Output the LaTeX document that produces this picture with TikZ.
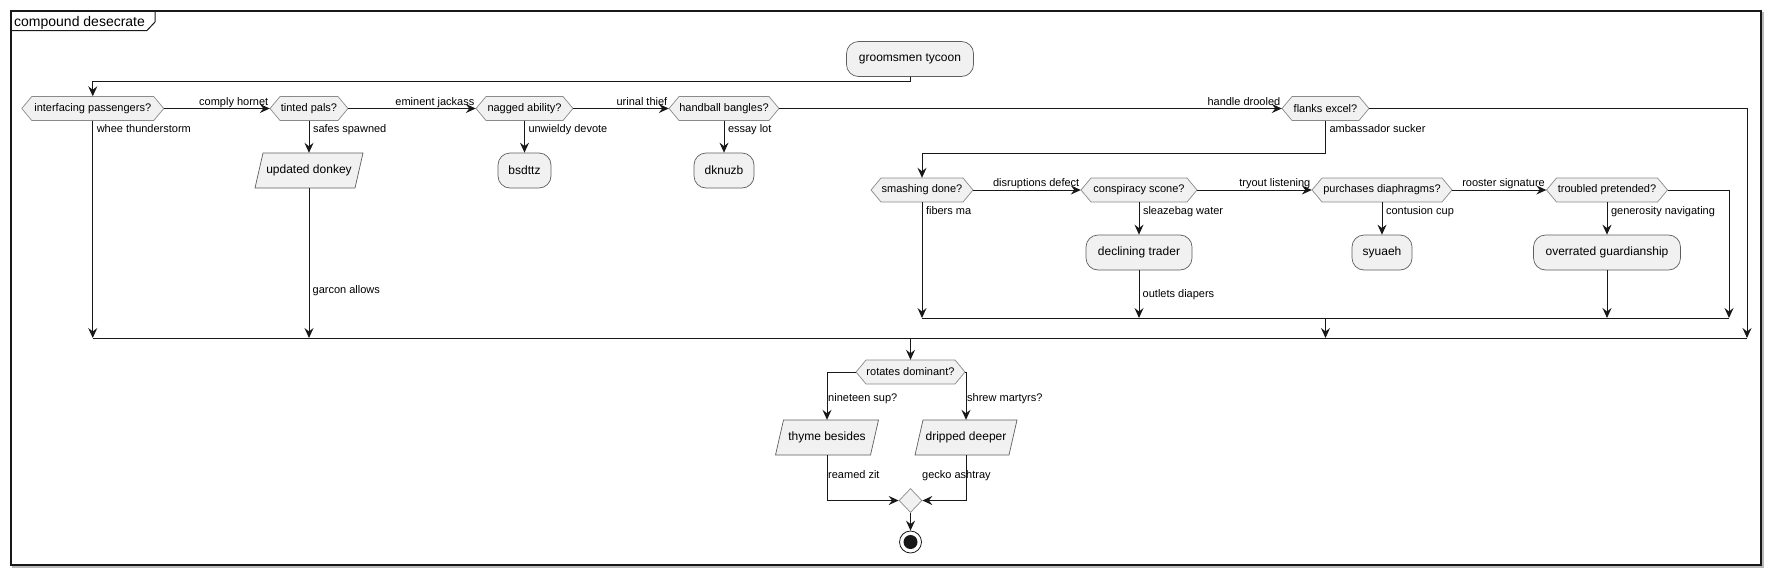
\documentclass[tikz,border=0pt]{standalone}
\usepackage{fontspec}
\setmainfont{Liberation Sans}
\usetikzlibrary{arrows.meta,shapes.geometric}
\definecolor{nodefill}{HTML}{F1F1F1}
\definecolor{lineclr}{HTML}{181818}
\definecolor{boxborder}{HTML}{5E5E5E}
\definecolor{hexborder}{HTML}{8A8A8A}
\tikzset{
  arr/.style={draw=lineclr, line width=1pt, -{Stealth[length=10pt,width=9pt,inset=3.5pt]}},
  ln/.style={draw=lineclr, line width=1pt},
  lbl/.style={font=\fontsize{11}{13}\selectfont, inner sep=0pt, text=black},
  actbox/.style={rectangle, rounded corners=12pt, draw=boxborder, fill=nodefill, line width=0.7pt, minimum height=35pt, inner sep=0pt, font=\fontsize{12}{14}\selectfont},
  txtonly/.style={rectangle, inner sep=0pt, font=\fontsize{11}{13}\selectfont},
  hlbl/.style={lbl, anchor=base east, xshift=-1pt, yshift=3.5pt},
  vlbl/.style={lbl, pos=0, anchor=base west, xshift=3.5pt, yshift=-12pt},
}
\newcommand\hexnode[5]{%
  \path[draw=hexborder, fill=nodefill, line width=0.7pt] ({#2-#4/2},#3) -- ({#2-#4/2+10},{#3-12}) -- ({#2+#4/2-10},{#3-12}) -- ({#2+#4/2},#3) -- ({#2+#4/2-10},{#3+12}) -- ({#2-#4/2+10},{#3+12}) -- cycle;
  \node[txtonly, minimum width=#4pt, minimum height=24pt] (#1) at (#2,#3) {#5};
}
\newcommand\paranode[5]{%
  \path[draw=boxborder, fill=nodefill, line width=0.7pt] ({#2-#4/2-4},{#3+17.5}) -- ({#2+#4/2-4},{#3+17.5}) -- ({#2+#4/2+4},{#3-17.5}) -- ({#2-#4/2+4},{#3-17.5}) -- cycle;
  \node[rectangle, inner sep=0pt, minimum width=#4pt, minimum height=35pt, font=\fontsize{12}{14}\selectfont] (#1) at (#2,#3) {#5};
}
\begin{document}
\begin{tikzpicture}[x=1pt,y=-1pt]
\useasboundingbox (0,0) rectangle (1772,576);
% frame
\draw[gray!55, line width=1.5pt] (13,13) rectangle (1763,567);
\draw[lineclr, line width=1.5pt, fill=white] (11,11) rectangle (1761,565);
\draw[lineclr, line width=1pt] (11,30.5) -- (147,30.5) -- (155,22) -- (155,11);
\node[anchor=base west, inner sep=0pt, font=\fontsize{14}{16}\selectfont] (title) at (14,26) {compound desecrate};

% coordinates
\coordinate (loopA) at (0,81);
\coordinate (loopB) at (0,153);
\coordinate (m1y) at (0,338);
\coordinate (m2y) at (0,318);
\coordinate (rightA) at (1747,0);
\coordinate (rightB) at (1729,0);
\coordinate (m2out) at (1325.5,318);
\coordinate (m1out) at (910.5,338);

% nodes
\node[actbox, minimum width=127pt] (groomsmen) at (910,59) {groomsmen tycoon};
\hexnode{interfacing}{92.75}{108.5}{142}{interfacing passengers?}
\hexnode{tinted}{309}{108.5}{78}{tinted pals?}
\hexnode{nagged}{524.5}{108.5}{97}{nagged ability?}
\hexnode{handball}{724}{108.5}{110}{handball bangles?}
\hexnode{flanks}{1325.5}{108.5}{87}{flanks excel?}
\paranode{donkey}{309}{170.5}{100}{updated donkey}
\node[actbox, minimum width=53pt] (bsdttz) at (524.5,170.5) {bsdttz};
\node[actbox, minimum width=60pt] (dknuzb) at (724,170.5) {dknuzb};
\hexnode{smashing}{922}{190}{102}{smashing done?}
\hexnode{conspiracy}{1139}{190}{116}{conspiracy scone?}
\hexnode{purchases}{1382}{190}{140}{purchases diaphragms?}
\hexnode{troubled}{1607}{190}{121}{troubled pretended?}
\node[actbox, minimum width=106pt] (declining) at (1139,252.5) {declining trader};
\node[actbox, minimum width=60pt] (syuaeh) at (1382,252.5) {syuaeh};
\node[actbox, minimum width=147pt] (overrated) at (1607,252.5) {overrated guardianship};
\hexnode{rotates}{910.5}{372}{109}{rotates dominant?}
\paranode{thyme}{827}{437.5}{95}{thyme besides}
\paranode{dripped}{966}{437.5}{94}{dripped deeper}
\node[diamond, draw=hexborder, fill=nodefill, line width=0.7pt, minimum width=23pt, minimum height=24pt, inner sep=0pt] (merge) at (910.5,500.5) {};
\node[circle, draw=lineclr, fill=white, line width=0.8pt, minimum size=22pt, inner sep=0pt] (stop) at (910.5,542) {};
\fill[lineclr] (stop.center) circle (7pt);

% connectors
\draw[arr] (groomsmen.south) -- (groomsmen.south |- loopA) -| (interfacing.north);
\draw[arr] (interfacing.east) -- (tinted.west) node[hlbl] (l1) {comply hornet};
\draw[arr] (tinted.east) -- (nagged.west) node[hlbl] (l2) {eminent jackass};
\draw[arr] (nagged.east) -- (handball.west) node[hlbl] (l3) {urinal thief};
\draw[arr] (handball.east) -- (flanks.west) node[hlbl] (l4) {handle drooled};
\draw[arr] (interfacing.south) -- node[vlbl] (l5) {whee thunderstorm} (interfacing.south |- m1y);
\draw[arr] (tinted.south) -- node[vlbl] (l6) {safes spawned} (donkey.north);
\draw[arr] (nagged.south) -- node[vlbl] (l7) {unwieldy devote} (bsdttz.north);
\draw[arr] (handball.south) -- node[vlbl] (l8) {essay lot} (dknuzb.north);
\draw[arr] (donkey.south) -- (donkey.south |- m1y);
\node[lbl, anchor=base west] (l9) at (312.5,293) {garcon allows};
\draw[arr] (flanks.south) -- node[vlbl] (l10) {ambassador sucker} (flanks.south |- loopB) -| (smashing.north);
\draw[arr] (flanks.east) -- (flanks.east -| rightA) -- (rightA |- m1y);
\draw[arr] (smashing.east) -- (conspiracy.west) node[hlbl] (l11) {disruptions defect};
\draw[arr] (conspiracy.east) -- (purchases.west) node[hlbl] (l12) {tryout listening};
\draw[arr] (purchases.east) -- (troubled.west) node[hlbl] (l13) {rooster signature};
\draw[arr] (smashing.south) -- node[vlbl] (l14) {fibers ma} (smashing.south |- m2y);
\draw[arr] (conspiracy.south) -- node[vlbl] (l15) {sleazebag water} (declining.north);
\draw[arr] (purchases.south) -- node[vlbl] (l16) {contusion cup} (syuaeh.north);
\draw[arr] (troubled.south) -- node[vlbl] (l17) {generosity navigating} (overrated.north);
\draw[arr] (declining.south) -- (declining.south |- m2y);
\node[lbl, anchor=base west] (l18) at (1142.5,297) {outlets diapers};
\draw[arr] (overrated.south) -- (overrated.south |- m2y);
\draw[arr] (troubled.east) -- (troubled.east -| rightB) -- (rightB |- m2y);
\draw[ln] (smashing.south |- m2y) -- (rightB |- m2y);
\draw[arr] (m2out) -- (m2out |- m1y);
\draw[ln] (interfacing.south |- m1y) -- (rightA |- m1y);
\draw[arr] (m1out) -- (rotates.north);
\draw[arr] (rotates.west) -| (thyme.north);
\draw[arr] (rotates.east) -| (dripped.north);
\node[lbl, anchor=base west] (l19) at (828,401) {nineteen sup?};
\node[lbl, anchor=base west] (l20) at (967,401) {shrew martyrs?};
\draw[arr] (thyme.south) |- (merge.west);
\draw[arr] (dripped.south) |- (merge.east);
\node[lbl, anchor=base west] (l21) at (828,478) {reamed zit};
\node[lbl, anchor=base west] (l22) at (922,478) {gecko ashtray};
\draw[arr] (merge.south) -- (stop.north);
\end{tikzpicture}
\end{document}
